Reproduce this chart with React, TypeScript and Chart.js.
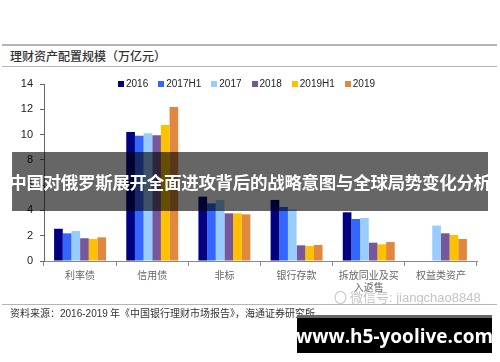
import React, { useEffect, useRef } from "react";
import { Chart, registerables } from "chart.js";

Chart.register(...registerables);

const categories: (string | string[])[] = ["利率债", "信用债", "非标", "银行存款", ["拆放同业及买", "入返售"], "权益类资产"];
const seriesNames = ["2016", "2017H1", "2017", "2018", "2019H1", "2019"];
const s2016 = [2.55, 10.2, 5.09, 4.83, 3.85, null];
const s2017H1 = [2.19, 9.9, 4.56, 4.27, 3.32, null];
const s2017 = [2.37, 10.1, 4.83, 4.09, 3.4, 2.8];
const s2018 = [1.8, 9.95, 3.77, 1.24, 1.45, 2.19];
const s2019H1 = [1.74, 10.76, 3.77, 1.19, 1.32, 2.06];
const s2019 = [1.87, 12.18, 3.69, 1.27, 1.5, 1.74];
const seriesColors = ["#000080", "#3366ff", "#99ccff", "#76579a", "#ffc000", "#e0883f"];
const yTicks = [0, 2, 4, 6, 8, 10, 12, 14];

export default function App() {
  const ref = useRef<HTMLCanvasElement | null>(null);
  useEffect(() => {
    if (!ref.current) return;
    const values = [s2016, s2017H1, s2017, s2018, s2019H1, s2019];
    const chart = new Chart(ref.current, {
      type: "bar",
      data: {
        labels: categories,
        datasets: seriesNames.map((n, i) => ({
          label: n,
          data: values[i],
          backgroundColor: seriesColors[i],
          borderWidth: 0,
          categoryPercentage: 0.72,
          barPercentage: 1,
        })),
      },
      options: {
        animation: false,
        responsive: false,
        maintainAspectRatio: false,
        layout: { padding: { top: 84, right: 23, left: 0, bottom: 0 } },
        plugins: {
          tooltip: { enabled: false },
          legend: { display: false },
        },
        scales: {
          x: {
            grid: { display: true, drawOnChartArea: false, tickLength: 5, color: "#888", offset: true },
            border: { color: "#888", width: 1 },
            ticks: {
              color: "#666",
              padding: 3,
              font: { family: "'Noto Sans CJK SC'", size: 10 },
              maxRotation: 0,
              autoSkip: false,
            },
            afterFit: (s: any) => { s.height = 39; },
          },
          y: {
            min: 0,
            max: 14,
            afterBuildTicks: (s: any) => { s.ticks = yTicks.map((v) => ({ value: v })); },
            grid: { display: true, drawOnChartArea: false, tickLength: 4, color: "#666" },
            border: { color: "#666", width: 1 },
            ticks: {
              color: "#222",
              padding: 7,
              font: { family: "Arial, 'Liberation Sans'", size: 11 },
            },
            afterFit: (s: any) => { s.width = 44; },
          },
        },
      },
    });
    return () => chart.destroy();
  }, []);

  const cjk = "'Noto Sans CJK SC', sans-serif";
  const arial = "Arial, 'Liberation Sans', sans-serif";
  return (
    <div style={{ position: "fixed", left: 0, top: 0, width: 500, height: 362, background: "#fff", overflow: "hidden" }}>
      <div style={{ position: "absolute", left: 2, top: 44, width: 495, height: 2, background: "#b5b5b5" }} />
      <div style={{ position: "absolute", left: 10, top: 47, fontFamily: cjk, fontSize: 12, lineHeight: "18px", color: "#333", fontWeight: 500 }}>
        理财资产配置规模（万亿元）
      </div>
      <div style={{ position: "absolute", left: 2, top: 66, width: 495, height: 1, background: "#b5b5b5" }} />
      <canvas ref={ref} width={500} height={300} style={{ position: "absolute", left: 0, top: 0, width: 500, height: 300 }} />
      <div style={{ position: "absolute", left: 118, top: 77, display: "flex", gap: 10, fontFamily: arial, fontSize: 10, lineHeight: "14px", color: "#222", whiteSpace: "nowrap" }}>
        {seriesNames.map((n, i) => (
          <div key={n} style={{ display: "flex", alignItems: "center" }}>
            <span style={{ display: "inline-block", width: 6, height: 6, background: seriesColors[i], marginRight: 2 }} />
            <span>{n}</span>
          </div>
        ))}
      </div>
      <div style={{ position: "absolute", left: 334, top: 287, fontFamily: arial, fontSize: 13, color: "#c4c4c4", whiteSpace: "nowrap" }}>
        <span style={{ fontFamily: cjk }}>〇 微信号</span>: jiangchao8848
      </div>
      <div style={{ position: "absolute", left: 2, top: 304, width: 495, height: 1, background: "#b5b5b5" }} />
      <div style={{ position: "absolute", left: 10, top: 306, fontFamily: cjk, fontSize: 10, lineHeight: "14px", color: "#333", whiteSpace: "nowrap" }}>
        资料来源：<span style={{ fontFamily: arial }}>2016-2019</span> 年《中国银行理财市场报告》，海通证券研究所
      </div>
      <div style={{ position: "absolute", left: 12, top: 152, width: 476, height: 59, background: "rgba(0,0,0,0.6)", display: "flex", alignItems: "center", justifyContent: "center" }}>
        <span style={{ fontFamily: cjk, fontWeight: 700, fontSize: 17.5, color: "#fff", whiteSpace: "nowrap", letterSpacing: -0.3 }}>
          中国对俄罗斯展开全面进攻背后的战略意图与全球局势变化分析
        </span>
      </div>
      <div style={{ position: "absolute", left: 297, top: 315, width: 195, height: 3, background: "#666" }} />
      <div style={{ position: "absolute", left: 297, top: 318, width: 195, height: 35, background: "#000", display: "flex", alignItems: "center", justifyContent: "center" }}>
        <span style={{ fontFamily: "'Open Sans', sans-serif", fontWeight: 700, fontSize: 19, color: "#fff", whiteSpace: "nowrap" }}>
          www.h5-yoolive.com
        </span>
      </div>
    </div>
  );
}
